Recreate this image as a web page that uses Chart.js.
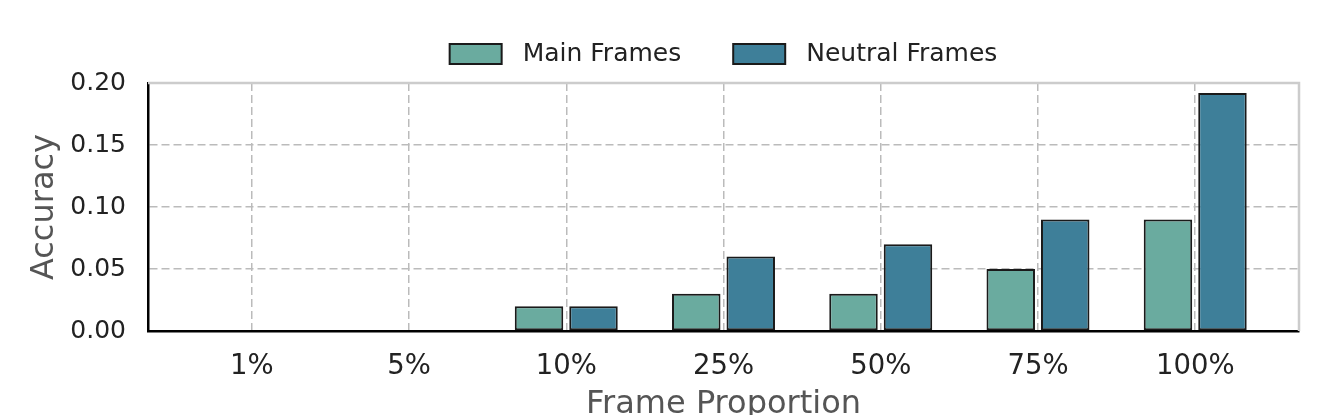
<!DOCTYPE html>
<html>
<head>
<meta charset="utf-8">
<script src="https://cdn.jsdelivr.net/npm/chart.js@4"></script>
<style>
  html, body { margin: 0; padding: 0; background: #fff; }
  #wrap { width: 1329px; height: 415px; }
</style>
</head>
<body>
<div id="wrap"><canvas id="accChart" width="1329" height="415"></canvas></div>
<script>
const categories = ["1%", "5%", "10%", "25%", "50%", "75%", "100%"];
const mainFrames = [0, 0, 0.02, 0.03, 0.03, 0.05, 0.09];
const neutralFrames = [0, 0, 0.02, 0.06, 0.07, 0.09, 0.192];
const seriesNames = ["Main Frames", "Neutral Frames"];
const seriesColors = ["#6aab9f", "#3e7f99"];

(() => {
    const canvas = document.getElementById("accChart");
    if (!canvas || typeof Chart === "undefined") {
        return;
    }

    const font = "'DejaVu Sans', 'Liberation Sans', sans-serif";

    // gray frame on top/right, like the matplotlib spines
    const framePlugin = {
        id: "frame",
        beforeDatasetsDraw(chart) {
            const { ctx, chartArea: a } = chart;
            ctx.save();
            ctx.strokeStyle = "#cccccc";
            ctx.lineWidth = 2.5;
            ctx.beginPath();
            ctx.moveTo(a.left, a.top);
            ctx.lineTo(a.right, a.top);
            ctx.lineTo(a.right, a.bottom);
            ctx.stroke();
            ctx.restore();
        }
    };

    // legend drawn by hand to get matplotlib-like spacing
    const legendPlugin = {
        id: "topLegend",
        afterDraw(chart) {
            const { ctx, chartArea: a } = chart;
            const boxW = 52, boxH = 20, gap = 21, spacing = 52, y = 54;
            ctx.save();
            ctx.font = "25px " + font;
            const items = chart.data.datasets.map(ds => ({
                label: ds.label,
                color: ds.backgroundColor,
                w: ctx.measureText(ds.label).width
            }));
            const total = items.reduce((s, it) => s + boxW + gap + it.w, 0) + spacing * (items.length - 1);
            let x = (a.left + a.right) / 2 - total / 2;
            items.forEach(it => {
                ctx.fillStyle = it.color;
                ctx.fillRect(x, y - boxH / 2, boxW, boxH);
                ctx.strokeStyle = "#1a1a1a";
                ctx.lineWidth = 2;
                ctx.strokeRect(x, y - boxH / 2, boxW, boxH);
                ctx.fillStyle = "#222";
                ctx.textBaseline = "middle";
                ctx.textAlign = "left";
                ctx.fillText(it.label, x + boxW + gap, y);
                x += boxW + gap + it.w + spacing;
            });
            ctx.restore();
        }
    };

    const toPoints = vals => vals.map((v, i) => ({ x: i, y: v }));

    // eslint-disable-next-line no-new
    new Chart(canvas, {
        type: "bar",
        data: {
            datasets: [mainFrames, neutralFrames].map((vals, i) => ({
                label: seriesNames[i],
                data: toPoints(vals),
                backgroundColor: seriesColors[i],
                borderColor: "#1a1a1a",
                borderWidth: 2,
                borderSkipped: false,
                categoryPercentage: 0.693,
                barPercentage: 0.89
            }))
        },
        options: {
            responsive: false,
            animation: false,
            layout: { padding: { top: 83, right: 30, left: 0, bottom: 0 } },
            scales: {
                x: {
                    type: "linear",
                    offset: false,
                    min: -0.66,
                    max: 6.66,
                    afterBuildTicks(scale) {
                        scale.ticks = categories.map((_, i) => ({ value: i }));
                    },
                    afterFit(scale) {
                        scale.height = 84;
                    },
                    ticks: {
                        callback: v => categories[v],
                        color: "#222",
                        padding: 19,
                        maxRotation: 0,
                        font: { family: font, size: 27.5 }
                    },
                    grid: {
                        offset: false,
                        color: "#bbbbbb",
                        lineWidth: 1.5,
                        drawTicks: false
                    },
                    border: { color: "#000", width: 2.5, dash: [8, 4] },
                    title: {
                        display: true,
                        text: "Frame Proportion",
                        color: "#555",
                        padding: 0,
                        font: { family: font, size: 32, lineHeight: 0.625 }
                    }
                },
                y: {
                    min: 0,
                    max: 0.2,
                    afterFit(scale) {
                        scale.width = 148;
                    },
                    ticks: {
                        stepSize: 0.05,
                        callback: v => v.toFixed(2),
                        color: "#222",
                        padding: 22,
                        font: { family: font, size: 25 }
                    },
                    grid: {
                        color: ctx => (ctx.tick && ctx.tick.value > 0 && ctx.tick.value < 0.199) ? "#bbbbbb" : "rgba(0,0,0,0)",
                        lineWidth: 1.5,
                        drawTicks: false
                    },
                    border: { color: "#000", width: 2.5, dash: [8, 4] },
                    title: {
                        display: true,
                        text: "Accuracy",
                        color: "#555",
                        padding: { top: 25, bottom: 0 },
                        font: { family: font, size: 32, lineHeight: 1.2 }
                    }
                }
            },
            plugins: {
                legend: { display: false },
                tooltip: { enabled: false }
            }
        },
        plugins: [framePlugin, legendPlugin]
    });
})();
</script>
</body>
</html>
